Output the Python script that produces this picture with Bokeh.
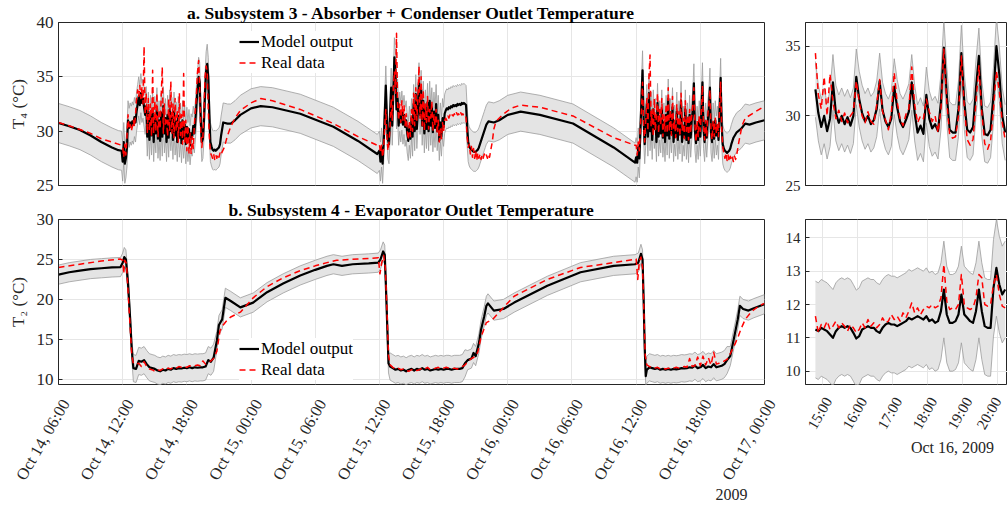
import math
import numpy as np
import pandas as pd
from bokeh.plotting import figure
from bokeh.layouts import column, row
from bokeh.models import Range1d, FixedTicker, Legend, LegendItem
from bokeh.core.properties import value
from bokeh.embed import file_html
from bokeh.resources import INLINE

FONT = "Liberation Serif"
INK = "#262626"
BAND_FILL = "#e4e4e4"
BAND_EDGE = "#9c9c9c"
MODEL_COLOR = "#000000"
REAL_COLOR = "#ff0000"
HOUR_MS = 3600 * 1000.0

# ---------------------------------------------------------------------------
# Time frames
# ---------------------------------------------------------------------------
MAIN_T0 = "2009-10-14 06:00"          # main panels: hours counted from here
MAIN_SPAN_H = 66
MAIN_TICKS_H = [0, 6, 12, 18, 24, 30, 36, 42, 48, 54, 60, 66]
MAIN_TICK_FMT = "%b %d, %H:%M"

DETAIL_T0 = "2009-10-16 14:48"        # detail panels: one sample every 5 min
DETAIL_STEP_MIN = 5
DETAIL_VIEW = ("2009-10-16 14:31", "2009-10-16 20:17")
DETAIL_TICKS = ["2009-10-16 15:00", "2009-10-16 16:00", "2009-10-16 17:00",
                "2009-10-16 18:00", "2009-10-16 19:00", "2009-10-16 20:00"]
DETAIL_TICK_FMT = "%H:%M"

TITLE_A = "a. Subsystem 3 - Absorber + Condenser Outlet Temperature"
TITLE_B = "b. Subsystem 4 - Evaporator Outlet Temperature"
YLABEL_A = "T\u2084 (\u00b0C)"
YLABEL_B = "T\u2082 (\u00b0C)"
YEAR_NOTE = "2009"
DETAIL_DATE_NOTE = "Oct 16, 2009"

# ---------------------------------------------------------------------------
# a. Subsystem 3 - absorber + condenser outlet temperature T4 (degC)
# ---------------------------------------------------------------------------
T4_HALF = 1.8   # half width of the model uncertainty band

# model output, smooth stretches (hour, value)
T4_MOD_H0 = [0, 1, 2, 3, 4, 5, 5.6, 5.9]
T4_MOD_V0 = [30.75, 30.45, 30.1, 29.6, 29.0, 28.5, 28.25, 28.2]
T4_MOD_H1 = [15.4, 15.8, 16.1, 16.5, 17.0, 18.0, 18.9, 20.0, 22.6, 25.7, 28.0, 29.8]
T4_MOD_V1 = [30.8, 30.7, 30.7, 31.0, 31.5, 32.1, 32.3, 32.2, 31.6, 30.4, 29.1, 27.9]
T4_MOD_H2 = [40.2, 40.7, 41.2, 42.0, 43.2, 45.0, 48.1, 51.9, 53.9]
T4_MOD_V2 = [30.9, 30.8, 31.0, 31.5, 31.8, 31.5, 30.7, 28.5, 27.1]
T4_MOD_H3 = [63.1, 63.4, 63.8, 64.2, 64.6, 65.2, 66.0]
T4_MOD_V3 = [29.4, 29.9, 30.2, 30.7, 30.6, 30.8, 31.0]

# model output during the operating periods, every 0.1 h
T4_BURST_STEP = 0.1
T4_MOD_B1_START = 6.0
T4_MOD_B1 = [27.2, 29.0, 27.0, 27.5, 28.5, 31.0, 30.3, 30.8, 30.5, 30.9,
             30.6, 31.3, 30.8, 31.8, 32.5, 33.2, 32.4, 33.5, 32.6, 33.0,
             32.2, 31.5, 32.3, 29.5, 31.8, 29.2, 31.5, 29.6, 32.0, 29.0,
             31.4, 29.8, 32.2, 29.3, 31.0, 29.1, 31.7, 29.5, 32.3, 29.8,
             31.2, 29.0, 31.5, 29.4, 32.0, 30.0, 31.3, 29.2, 31.8, 29.6,
             30.9, 29.0, 31.4, 29.4, 30.8, 28.9, 31.0, 29.3, 30.6, 28.8,
             30.4, 29.0, 30.2, 28.7, 29.8, 29.5, 30.5, 29.8, 31.0, 32.5,
             33.8, 35.0, 34.5, 31.0, 29.0, 29.3, 31.0, 33.5, 35.5, 36.2,
             35.0, 31.5, 29.0, 28.6, 28.3, 28.2, 28.3, 28.2, 28.3, 28.4,
             28.5, 28.8, 29.6]
T4_MOD_B2_START = 30.0
T4_MOD_B2 = [28.2, 27.2, 28.5, 27.0, 29.0, 31.5, 34.2, 31.0, 29.2, 28.8,
             31.5, 34.0, 30.5, 33.5, 36.8, 35.5, 32.0, 33.0, 30.5, 31.8,
             30.8, 31.9, 30.6, 31.5, 30.4, 31.0, 29.8, 29.1, 30.5, 29.3,
             31.2, 29.5, 32.5, 30.0, 33.4, 30.2, 32.0, 34.5, 31.5, 33.8,
             30.5, 32.8, 29.8, 32.0, 30.2, 32.6, 30.0, 32.8, 30.5, 32.2,
             29.9, 31.8, 30.3, 32.5, 30.0, 31.5, 29.1, 30.8, 29.5, 31.2,
             30.4, 31.6, 31.9, 32.1, 32.0, 32.2, 32.1, 32.3, 32.2, 32.4,
             32.3, 32.4, 32.3, 32.5, 32.4, 32.5, 32.4, 32.6, 32.5, 32.6,
             32.5, 32.4, 30.5, 29.0, 28.6, 28.4, 28.3, 28.2, 28.1, 28.1,
             28.1, 28.2, 28.3, 28.5, 28.8, 29.1, 29.4, 29.7, 30.0, 30.3,
             30.6]
T4_MOD_B3_START = 54.0
T4_MOD_B3 = [27.6, 27.1, 28.5, 27.5, 30.0, 33.0, 35.6, 31.0, 28.8, 30.5,
             32.5, 29.5, 33.5, 30.0, 31.8, 29.2, 32.0, 30.2, 31.2, 29.0,
             32.6, 29.5, 31.0, 29.8, 32.0, 29.4, 30.8, 29.0, 31.5, 29.6,
             33.0, 29.3, 31.2, 29.8, 32.2, 29.0, 30.6, 29.5, 31.8, 29.2,
             31.0, 29.7, 32.8, 29.0, 30.5, 29.5, 32.0, 29.2, 30.8, 28.9,
             31.5, 29.4, 31.0, 32.0, 34.4, 30.0, 28.9, 30.5, 29.2, 31.0,
             29.5, 31.8, 34.5, 30.2, 29.0, 30.8, 29.4, 31.0, 32.0, 34.0,
             29.8, 29.0, 30.8, 29.3, 31.0, 29.6, 30.5, 29.2, 32.0, 34.9,
             30.5, 28.8, 28.4, 28.2, 28.1, 28.0, 28.1, 28.2, 28.4, 28.8]

# measured data, smooth stretches
T4_REAL_H0 = [0, 1, 2, 3, 4, 5, 5.9]
T4_REAL_V0 = [30.8, 30.5, 30.15, 29.8, 29.3, 29.0, 28.7]
T4_REAL_H1 = [15.5, 15.8, 16.1, 16.5, 17.0, 18.0, 18.9, 20.0, 22.6, 25.7, 28.0, 29.8]
T4_REAL_V1 = [28.5, 29.6, 30.4, 31.2, 31.9, 32.6, 33.0, 32.8, 32.0, 30.7, 29.5, 28.7]
T4_REAL_H2 = [40.55, 40.7, 40.9, 41.5, 42.3, 43.2, 45.0, 48.1, 51.9, 53.9]
T4_REAL_V2 = [29.0, 30.2, 30.9, 31.5, 32.1, 32.4, 32.2, 31.4, 29.4, 28.7]
T4_REAL_H3 = [63.6, 63.9, 64.2, 65.0, 66.0]
T4_REAL_V3 = [29.0, 30.5, 31.2, 31.7, 32.3]

# measured data during the operating periods, every 0.1 h
T4_REAL_B1_START = 6.0
T4_REAL_B1 = [28.5, 27.6, 28.8, 27.8, 29.5, 31.5, 30.2, 30.6, 30.0, 30.4,
              31.0, 30.4, 31.5, 33.0, 33.8, 33.2, 34.2, 33.0, 34.0, 32.5,
              37.8, 31.5, 33.5, 29.8, 33.0, 30.0, 32.5, 29.5, 35.6, 29.8,
              32.8, 30.0, 33.5, 29.5, 32.0, 30.2, 33.2, 35.9, 29.8, 32.5,
              30.5, 31.0, 29.5, 33.0, 30.0, 34.6, 29.8, 32.5, 29.4, 33.0,
              30.0, 32.0, 29.0, 33.5, 29.6, 31.5, 28.8, 35.3, 29.0, 31.0,
              28.2, 30.5, 28.0, 29.8, 27.9, 29.5, 28.4, 30.6, 32.0, 33.5,
              35.5, 36.5, 34.0, 30.0, 28.5, 29.5, 32.0, 35.0, 36.0, 35.5,
              32.0, 29.5, 28.0, 27.8, 27.5, 27.9, 27.4, 27.8, 27.5, 27.9,
              27.6, 28.0, 27.8, 28.1]
T4_REAL_B2_START = 30.0
T4_REAL_B2 = [28.8, 28.0, 28.7, 27.6, 28.5, 30.5, 32.0, 29.5, 28.2, 29.0,
              30.5, 33.0, 31.0, 34.0, 35.5, 33.5, 39.0, 32.5, 31.0, 32.5,
              30.8, 32.8, 31.0, 32.4, 30.5, 31.6, 30.0, 29.2, 31.0, 29.5,
              32.0, 30.0, 33.5, 30.5, 34.0, 31.0, 33.0, 36.0, 31.2, 35.0,
              30.5, 33.8, 30.0, 32.5, 30.8, 33.2, 30.2, 32.0, 31.2, 32.8,
              30.0, 31.5, 30.5, 32.0, 29.8, 31.0, 29.0, 30.2, 29.3, 30.8,
              30.0, 31.0, 31.2, 31.0, 31.4, 31.2, 31.5, 31.3, 31.5, 31.4,
              31.6, 31.4, 31.7, 31.5, 31.6, 31.4, 31.7, 31.5, 31.6, 31.4,
              31.5, 31.2, 29.5, 28.5, 28.8, 27.9, 28.6, 27.6, 28.4, 27.5,
              28.2, 27.3, 28.0, 27.5, 27.9, 27.4, 27.8, 27.5, 27.9, 27.6,
              27.8, 27.5, 27.9, 27.6, 28.2]
T4_REAL_B3_START = 54.0
T4_REAL_B3 = [28.7, 27.8, 29.0, 28.2, 30.5, 32.0, 34.5, 30.5, 29.0, 31.0,
              33.0, 30.0, 35.0, 37.0, 30.5, 32.0, 29.5, 33.0, 30.0, 31.5,
              33.5, 29.8, 32.0, 30.5, 33.0, 29.5, 31.5, 30.0, 32.5, 29.8,
              34.0, 30.0, 32.0, 29.6, 33.2, 30.2, 31.0, 29.4, 32.5, 30.0,
              31.8, 29.5, 33.5, 30.0, 31.2, 29.3, 32.8, 30.0, 31.5, 29.2,
              32.0, 29.8, 31.5, 32.5, 34.0, 30.5, 29.0, 31.0, 29.5, 31.5,
              30.0, 32.0, 34.2, 30.5, 29.2, 31.0, 29.5, 31.5, 32.5, 33.8,
              30.0, 29.2, 31.0, 29.5, 31.2, 29.8, 30.8, 29.5, 32.2, 34.5,
              30.2, 28.5, 28.0, 27.5, 28.0, 27.3, 27.8, 27.2, 27.7, 27.3,
              27.6, 27.2, 27.7, 27.4, 27.8]

# ---------------------------------------------------------------------------
# b. Subsystem 4 - evaporator outlet temperature T2 (degC)
# ---------------------------------------------------------------------------
T2_HALF_WARM = 1.2   # band half width while the chiller is idle
T2_HALF_COLD = 1.7   # band half width while the chiller runs

T2_MOD_H0 = [0, 1, 2, 3, 4, 5, 5.8, 6.0, 6.15, 6.3, 6.5, 6.7, 6.85]
T2_MOD_V0 = [23.1, 23.4, 23.6, 23.8, 23.9, 24.0, 24.05, 24.6, 25.3, 25.0, 22.0, 17.5, 13.7]
T2_MOD_H1 = [14.8, 15.0, 15.3, 15.6, 16.1, 17.0, 18.2, 19.5, 21.0, 22.6, 24.0, 25.1,
             25.7, 26.5, 27.5, 29.0, 29.9, 30.1, 30.35, 30.5, 30.6, 30.75, 30.85]
T2_MOD_V1 = [14.8, 16.8, 17.5, 20.2, 19.8, 19.0, 19.6, 20.9, 22.0, 23.0, 23.7, 24.2,
             24.4, 24.2, 24.4, 24.5, 24.6, 25.0, 26.0, 25.6, 22.0, 16.0, 12.0]
T2_MOD_H2 = [38.25, 38.6, 38.8, 39.0, 39.3, 39.5, 39.8, 40.0, 40.15, 40.7, 41.6,
             42.6, 45.7, 48.8, 51.9, 53.9, 54.2, 54.45, 54.6, 54.7, 54.8, 54.9]
T2_MOD_V2 = [12.4, 12.6, 13.3, 12.9, 14.5, 16.2, 17.9, 19.2, 19.5, 18.6, 18.8,
             19.6, 21.7, 23.4, 24.2, 24.4, 24.6, 25.7, 25.0, 20.0, 14.0, 10.4]
T2_MOD_H3 = [62.8, 63.2, 63.5, 63.7, 64.0, 64.5, 65.0, 66.0]
T2_MOD_V3 = [12.9, 15.5, 17.5, 19.2, 18.8, 18.6, 18.9, 19.4]

T2_COLD_STEP = 0.25
T2_MOD_C1_START = 7.0
T2_MOD_C1 = [11.4, 11.3, 12.3, 12.2, 12.4, 11.9, 11.5, 11.4, 11.3, 11.1,
             11.0, 11.2, 11.1, 11.3, 11.2, 11.4, 11.3, 11.4, 11.35, 11.45,
             11.4, 11.5, 11.4, 11.5, 11.45, 11.5, 11.5, 11.6, 12.4, 12.2, 12.7]
T2_MOD_C2_START = 31.0
T2_MOD_C2 = [11.6, 11.4, 11.2, 11.3, 11.1, 11.2, 11.0, 11.2, 11.3, 11.1,
             11.3, 11.2, 11.4, 11.2, 11.3, 11.1, 11.2, 11.3, 11.2, 11.3,
             11.2, 11.3, 11.3, 11.2, 11.3, 11.3, 11.3, 11.4, 12.0]
T2_MOD_C3_START = 55.0
T2_MOD_C3 = [11.2, 11.5, 11.4, 11.3, 11.4, 11.2, 11.3, 11.2, 11.3, 11.2,
             11.3, 11.25, 11.3, 11.4, 11.35, 11.4, 11.5, 11.45, 11.7, 11.4,
             11.5, 11.8, 11.4, 11.6, 11.5, 11.9, 11.5, 11.6, 11.7, 11.9, 12.4]

T2_REAL_H0 = [0, 2, 4, 5.8, 6.0, 6.1, 6.2, 6.35, 6.5, 6.7, 6.85]
T2_REAL_V0 = [24.0, 24.4, 24.8, 25.05, 24.9, 23.2, 24.9, 24.5, 21.0, 16.5, 13.0]
T2_REAL_H1 = [14.8, 15.1, 15.4, 15.7, 16.1, 17.0, 18.2, 19.5, 21.0, 22.6, 24.0,
              25.1, 26.0, 28.0, 29.9, 30.05, 30.2, 30.4, 30.55, 30.7, 30.85]
T2_REAL_V1 = [13.5, 16.1, 16.8, 17.3, 17.8, 18.4, 20.2, 21.6, 22.7, 23.6, 24.2,
              24.6, 24.9, 25.05, 25.2, 23.2, 24.5, 25.5, 24.0, 19.0, 13.0]
T2_REAL_H2 = [38.25, 38.6, 38.9, 39.2, 39.5, 40.0, 40.6, 41.6, 42.6, 45.7, 48.8,
              51.9, 54.0, 54.15, 54.3, 54.45, 54.6, 54.7, 54.85]
T2_REAL_V2 = [12.2, 12.6, 12.8, 13.4, 15.3, 17.1, 17.5, 19.0, 20.4, 22.5, 24.0,
              24.6, 25.05, 22.5, 24.8, 25.3, 24.0, 19.5, 13.0]
T2_REAL_H3 = [62.8, 63.1, 63.5, 63.8, 64.2, 64.8, 65.5, 66.0]
T2_REAL_V3 = [13.2, 14.0, 15.2, 16.3, 17.5, 18.5, 19.2, 19.5]

T2_REAL_C1 = [12.0, 11.9, 12.0, 11.6, 12.2, 11.6, 11.3, 11.2, 11.0, 11.2,
              11.1, 11.3, 11.2, 11.4, 11.3, 11.5, 11.4, 11.6, 11.5, 11.6,
              11.5, 11.7, 11.6, 11.7, 11.8, 11.7, 12.3, 11.9, 12.1, 12.3, 12.6]
T2_REAL_C2 = [11.8, 11.5, 11.3, 11.4, 11.2, 11.3, 11.1, 11.0, 11.2, 11.3,
              11.1, 11.2, 11.4, 11.3, 11.5, 11.2, 11.3, 11.4, 11.5, 11.3,
              11.4, 11.5, 11.4, 11.3, 11.4, 11.3, 11.4, 11.6, 11.8]
T2_REAL_C3 = [11.8, 11.6, 11.5, 11.4, 11.5, 11.3, 11.4, 11.3, 11.4, 11.3,
              11.4, 11.5, 11.4, 11.5, 11.6, 11.5, 12.6, 11.6, 11.7, 12.8,
              11.7, 12.9, 11.8, 12.7, 11.8, 13.4, 11.9, 12.0, 12.1, 12.3, 12.5]

# ---------------------------------------------------------------------------
# Detail, Oct 16 afternoon (5-minute samples from 14:48)
# ---------------------------------------------------------------------------
D_T4_HALF = 2.0
D_T4_MODEL = [31.9, 30.2, 29.2, 30.0, 28.9, 29.8, 32.4, 30.2, 29.5, 30.0,
              29.4, 29.9, 29.3, 30.0, 32.8, 31.2, 30.2, 29.6, 30.0, 29.4,
              29.7, 30.5, 32.5, 30.4, 29.6, 29.2, 29.8, 32.1, 30.6, 29.6,
              29.2, 29.7, 30.3, 32.4, 30.2, 28.8, 29.3, 28.7, 31.5, 29.8,
              29.1, 29.4, 28.9, 31.0, 34.9, 31.5, 29.0, 28.8, 28.8, 30.5,
              34.5, 31.0, 29.0, 28.8, 29.2, 32.0, 34.3, 30.5, 28.7, 28.6,
              29.0, 31.5, 35.0, 33.0, 30.0, 28.8]
D_T4_REAL = [34.5, 31.5, 30.5, 32.8, 30.0, 33.0, 31.0, 29.8, 30.4, 29.6,
             30.2, 29.5, 30.0, 30.3, 32.5, 31.0, 30.0, 29.5, 30.3, 29.6,
             29.4, 30.8, 32.6, 30.3, 29.7, 29.0, 30.2, 33.1, 31.0, 29.8,
             29.3, 30.1, 30.5, 33.5, 30.8, 29.5, 30.0, 29.8, 31.2, 30.3,
             29.6, 30.0, 28.8, 30.5, 34.8, 31.0, 28.6, 28.4, 28.5, 30.0,
             34.3, 30.6, 28.3, 27.9, 28.3, 31.0, 33.6, 30.2, 28.0, 27.6,
             28.2, 30.5, 33.2, 31.8, 29.5, 28.3]

D_T2_HALF = 1.45
D_T2_MODEL = [11.25, 11.2, 11.3, 11.25, 11.2, 11.1, 11.0, 11.2, 11.3, 11.35,
              11.3, 11.35, 11.3, 11.15, 10.98, 11.05, 11.25, 11.3, 11.35, 11.3,
              11.3, 11.2, 11.15, 11.3, 11.4, 11.45, 11.4, 11.4, 11.35, 11.4,
              11.45, 11.5, 11.6, 11.55, 11.6, 11.65, 11.6, 11.55, 11.65, 11.5,
              11.55, 11.45, 11.5, 11.8, 12.45, 11.7, 11.45, 11.45, 11.5, 11.7,
              12.3, 11.7, 11.6, 11.5, 11.45, 11.8, 12.45, 11.8, 11.35, 11.3,
              11.3, 12.5, 13.1, 12.6, 12.3, 12.45]
D_T2_REAL = [11.65, 11.15, 11.4, 11.3, 11.5, 11.25, 11.35, 11.5, 11.3, 11.45,
             11.35, 11.2, 11.4, 11.3, 11.15, 11.25, 11.45, 11.3, 11.55, 11.35,
             11.45, 11.3, 11.4, 11.6, 11.45, 11.5, 11.7, 11.55, 11.65, 11.5,
             11.75, 11.6, 11.8, 12.05, 11.75, 11.9, 11.7, 11.85, 11.95, 11.9,
             12.0, 11.9, 11.95, 12.2, 13.2, 12.1, 11.85, 11.9, 11.85, 12.0,
             12.9, 12.0, 11.9, 11.85, 11.9, 12.2, 12.9, 12.8, 12.0, 11.95,
             12.0, 12.6, 12.9, 12.3, 11.95, 11.9]

# ---------------------------------------------------------------------------
# Page geometry (pixels)
# ---------------------------------------------------------------------------
PAGE_W = 1007
LEFT_W, RIGHT_W = 770, 237
TOP_H, MID_H, STRIP_H = 195, 197, 114
MAIN_LEFT, MAIN_FRAME_W = 58, 706          # main frames span x 58..764
DETAIL_FRAME_X, DETAIL_FRAME_W = 805, 202  # detail frames span x 805..1007


# ---------------------------------------------------------------------------
# Helpers
# ---------------------------------------------------------------------------
def ms(stamp):
    return pd.Timestamp(stamp).value / 1e6


def burst(start, step, values):
    """Regularly sampled stretch -> (hours, values)."""
    return list(start + step * np.arange(len(values))), list(values)


def assemble(pieces):
    """pieces: (hours, values, band half width) -> x in ms, values, half width."""
    hours, vals, half = [], [], []
    for h, v, w in pieces:
        hours.extend(h)
        vals.extend(v)
        half.extend([w] * len(v))
    x = ms(MAIN_T0) + np.asarray(hours, float) * HOUR_MS
    return x, np.asarray(vals, float), np.asarray(half, float)


def detail_x(n):
    return ms(DETAIL_T0) + np.arange(n) * DETAIL_STEP_MIN * 60 * 1000.0


def style(p, y_ticks, x_ticks, ylab_size):
    p.outline_line_color = INK
    p.outline_line_width = 1
    p.background_fill_color = "white"
    p.border_fill_color = "white"
    p.xaxis.ticker = FixedTicker(ticks=x_ticks)
    p.yaxis.ticker = FixedTicker(ticks=y_ticks)
    p.xgrid.ticker = FixedTicker(ticks=x_ticks)
    p.ygrid.ticker = FixedTicker(ticks=y_ticks)
    p.grid.grid_line_color = "#e6e6e6"
    p.grid.grid_line_width = 1
    for ax in p.axis:
        ax.axis_line_color = INK
        ax.major_tick_line_color = INK
        ax.major_tick_in = 4
        ax.major_tick_out = 0
        ax.minor_tick_line_color = None
        ax.major_label_text_font = FONT
        ax.major_label_text_color = INK
    p.yaxis.major_label_text_font_size = ylab_size
    p.yaxis.major_label_standoff = 5
    p.xaxis.visible = False


def draw(p, xm, model, half, xr, real):
    p.varea(x=xm, y1=model - half, y2=model + half, fill_color=BAND_FILL)
    p.line(xm, model + half, line_color=BAND_EDGE, line_width=0.8)
    p.line(xm, model - half, line_color=BAND_EDGE, line_width=0.8)
    rm = p.line(xm, model, line_color=MODEL_COLOR, line_width=2.2,
                line_join="round")
    rr = p.line(xr, real, line_color=REAL_COLOR, line_width=1.5,
                line_dash="6 4", line_join="round")
    return rm, rr


def add_legend(p, rm, rr, loc):
    leg = Legend(items=[LegendItem(label="Model output", renderers=[rm]),
                        LegendItem(label="Real data", renderers=[rr])],
                 location=loc)
    leg.background_fill_color = "white"
    leg.background_fill_alpha = 1.0
    leg.border_line_color = None
    leg.label_text_font = FONT
    leg.label_text_font_size = "17px"
    leg.label_text_color = "black"
    leg.glyph_width = 20
    leg.glyph_height = 21
    leg.label_height = 21
    leg.label_standoff = 2
    leg.spacing = 0
    leg.padding = 2
    leg.margin = 0
    p.add_layout(leg)


def set_title(p, text):
    p.title.text = text
    p.title.align = "center"
    p.title.text_font = FONT
    p.title.text_font_size = "17.5px"
    p.title.text_font_style = "bold"
    p.title.text_color = "black"
    p.title.standoff = 0


def y_title(p, text):
    p.yaxis.axis_label = text
    p.yaxis.axis_label_text_font = FONT
    p.yaxis.axis_label_text_font_size = "17px"
    p.yaxis.axis_label_text_font_style = "normal"
    p.yaxis.axis_label_text_color = INK
    p.yaxis.axis_label_standoff = 6


def slanted(s, ticks, fmt, size, dx, y, range_name="default"):
    texts = [pd.Timestamp(t, unit="ms").strftime(fmt) for t in ticks]
    s.text(x=ticks, y=[y] * len(ticks), text=texts, angle=math.pi / 3,
           x_offset=dx, text_align="right", text_baseline="middle",
           text_font=value(FONT), text_font_size=value(size), text_color=INK,
           x_range_name=range_name)


def plain(s, x, y, text, size, range_name="default"):
    s.text(x=[x], y=[y], text=[text], text_align="center",
           text_baseline="middle", text_font=value(FONT),
           text_font_size=value(size), text_color=INK,
           x_range_name=range_name)


# ---------------------------------------------------------------------------
# Series
# ---------------------------------------------------------------------------
t4_model = assemble([
    (T4_MOD_H0, T4_MOD_V0, T4_HALF),
    (*burst(T4_MOD_B1_START, T4_BURST_STEP, T4_MOD_B1), T4_HALF),
    (T4_MOD_H1, T4_MOD_V1, T4_HALF),
    (*burst(T4_MOD_B2_START, T4_BURST_STEP, T4_MOD_B2), T4_HALF),
    (T4_MOD_H2, T4_MOD_V2, T4_HALF),
    (*burst(T4_MOD_B3_START, T4_BURST_STEP, T4_MOD_B3), T4_HALF),
    (T4_MOD_H3, T4_MOD_V3, T4_HALF),
])
t4_real = assemble([
    (T4_REAL_H0, T4_REAL_V0, 0),
    (*burst(T4_REAL_B1_START, T4_BURST_STEP, T4_REAL_B1), 0),
    (T4_REAL_H1, T4_REAL_V1, 0),
    (*burst(T4_REAL_B2_START, T4_BURST_STEP, T4_REAL_B2), 0),
    (T4_REAL_H2, T4_REAL_V2, 0),
    (*burst(T4_REAL_B3_START, T4_BURST_STEP, T4_REAL_B3), 0),
    (T4_REAL_H3, T4_REAL_V3, 0),
])
t2_model = assemble([
    (T2_MOD_H0, T2_MOD_V0, T2_HALF_WARM),
    (*burst(T2_MOD_C1_START, T2_COLD_STEP, T2_MOD_C1), T2_HALF_COLD),
    (T2_MOD_H1, T2_MOD_V1, T2_HALF_WARM),
    (*burst(T2_MOD_C2_START, T2_COLD_STEP, T2_MOD_C2), T2_HALF_COLD),
    (T2_MOD_H2, T2_MOD_V2, T2_HALF_WARM),
    (*burst(T2_MOD_C3_START, T2_COLD_STEP, T2_MOD_C3), T2_HALF_COLD),
    (T2_MOD_H3, T2_MOD_V3, T2_HALF_WARM),
])
t2_real = assemble([
    (T2_REAL_H0, T2_REAL_V0, 0),
    (*burst(T2_MOD_C1_START, T2_COLD_STEP, T2_REAL_C1), 0),
    (T2_REAL_H1, T2_REAL_V1, 0),
    (*burst(T2_MOD_C2_START, T2_COLD_STEP, T2_REAL_C2), 0),
    (T2_REAL_H2, T2_REAL_V2, 0),
    (*burst(T2_MOD_C3_START, T2_COLD_STEP, T2_REAL_C3), 0),
    (T2_REAL_H3, T2_REAL_V3, 0),
])

main_ticks = [ms(MAIN_T0) + h * HOUR_MS for h in MAIN_TICKS_H]
main_range = (ms(MAIN_T0), ms(MAIN_T0) + MAIN_SPAN_H * HOUR_MS)
detail_ticks = [ms(t) for t in DETAIL_TICKS]
detail_range = (ms(DETAIL_VIEW[0]), ms(DETAIL_VIEW[1]))
main_ms_per_px = (main_range[1] - main_range[0]) / MAIN_FRAME_W
detail_ms_per_px = (detail_range[1] - detail_range[0]) / DETAIL_FRAME_W

# ---------------------------------------------------------------------------
# a. T4, full period
# ---------------------------------------------------------------------------
pa = figure(width=LEFT_W, height=TOP_H, x_axis_type="datetime",
            x_range=Range1d(*main_range), y_range=Range1d(25, 40),
            output_backend="svg", toolbar_location=None,
            min_border_left=MAIN_LEFT, min_border_right=6,
            min_border_top=22, min_border_bottom=10)
set_title(pa, TITLE_A)
style(pa, [25, 30, 35, 40], main_ticks, "17px")
y_title(pa, YLABEL_A)
rm, rr = draw(pa, t4_model[0], t4_model[1], t4_model[2], t4_real[0], t4_real[1])
add_legend(pa, rm, rr, (181, 112))

# ---------------------------------------------------------------------------
# b. T2, full period
# ---------------------------------------------------------------------------
pb = figure(width=LEFT_W, height=MID_H, x_axis_type="datetime",
            x_range=pa.x_range, y_range=Range1d(9.35, 30),
            output_backend="svg", toolbar_location=None,
            min_border_left=MAIN_LEFT, min_border_right=6,
            min_border_top=24, min_border_bottom=8)
set_title(pb, TITLE_B)
style(pb, [10, 15, 20, 25, 30], main_ticks, "17px")
y_title(pb, YLABEL_B)
rm, rr = draw(pb, t2_model[0], t2_model[1], t2_model[2], t2_real[0], t2_real[1])
add_legend(pb, rm, rr, (181, 4))

# ---------------------------------------------------------------------------
# Detail panels, Oct 16 afternoon
# ---------------------------------------------------------------------------
dx = detail_x(len(D_T4_MODEL))
pc = figure(width=RIGHT_W, height=TOP_H, x_axis_type="datetime",
            x_range=Range1d(*detail_range), y_range=Range1d(25, 36.7),
            output_backend="svg", toolbar_location=None,
            min_border_left=DETAIL_FRAME_X - LEFT_W, min_border_right=0,
            min_border_top=22, min_border_bottom=10)
style(pc, [25, 30, 35], detail_ticks, "15px")
m = np.asarray(D_T4_MODEL)
draw(pc, dx, m, np.full(len(m), D_T4_HALF), dx, np.asarray(D_T4_REAL))

pd_ = figure(width=RIGHT_W, height=MID_H, x_axis_type="datetime",
             x_range=pc.x_range, y_range=Range1d(9.6, 14.55),
             output_backend="svg", toolbar_location=None,
             min_border_left=DETAIL_FRAME_X - LEFT_W, min_border_right=0,
             min_border_top=24, min_border_bottom=8)
style(pd_, [10, 11, 12, 13, 14], detail_ticks, "15px")
m = np.asarray(D_T2_MODEL)
draw(pd_, dx, m, np.full(len(m), D_T2_HALF), dx, np.asarray(D_T2_REAL))

# ---------------------------------------------------------------------------
# Date labels under the lower panels: one blank band across the page whose
# horizontal scales line up with the panels above it
# ---------------------------------------------------------------------------
strip = figure(width=PAGE_W, height=STRIP_H,
               x_range=Range1d(main_range[0] - MAIN_LEFT * main_ms_per_px,
                               main_range[0] + (PAGE_W - MAIN_LEFT) * main_ms_per_px),
               y_range=Range1d(0, STRIP_H), output_backend="svg",
               toolbar_location=None, x_axis_location=None,
               y_axis_location=None, min_border=0, min_border_left=0,
               min_border_right=0, min_border_top=0, min_border_bottom=0)
strip.extra_x_ranges = {"detail": Range1d(
    detail_range[0] - DETAIL_FRAME_X * detail_ms_per_px, detail_range[1])}
strip.outline_line_color = None
strip.background_fill_color = "white"
strip.border_fill_color = "white"
for g in strip.grid:
    g.visible = False

slanted(strip, main_ticks, MAIN_TICK_FMT, "16.5px", 7, 106)
plain(strip, main_range[0] + (731 - MAIN_LEFT) * main_ms_per_px, 12,
      YEAR_NOTE, "16px")
# the last detail label sits at the page edge, so it hangs a little further left
slanted(strip, detail_ticks, DETAIL_TICK_FMT, "15px",
        [6] * (len(detail_ticks) - 1) + [0], 108, "detail")
plain(strip, detail_range[0] + (952 - DETAIL_FRAME_X) * detail_ms_per_px, 59,
      DETAIL_DATE_NOTE, "16px", "detail")

layout = column(row(pa, pc), row(pb, pd_), strip)
open("out.html", "w").write(file_html(layout, INLINE))
